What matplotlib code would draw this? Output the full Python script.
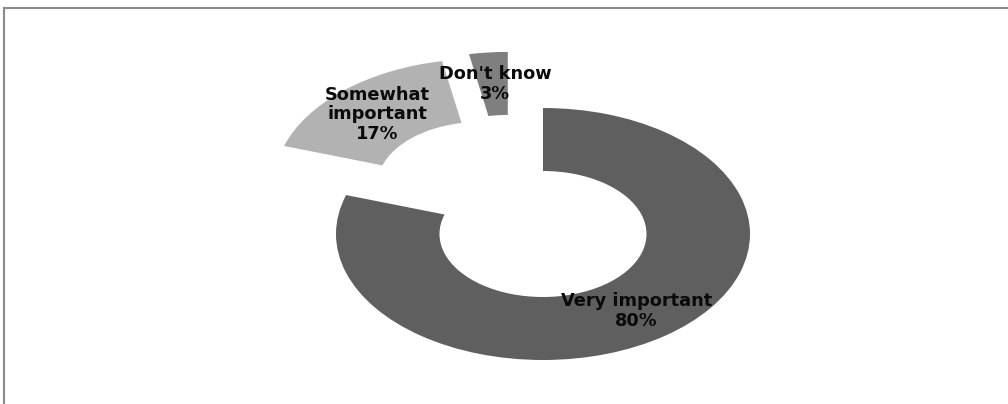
import matplotlib
matplotlib.use("Agg")
import matplotlib.pyplot as plt
from matplotlib.patches import Rectangle

# Survey answers
categories = ["Very important", "Somewhat important", "Don't know"]
shares = [80, 17, 3]
label_text = ["Very important\n80%", "Somewhat\nimportant\n17%", "Don't know\n3%"]

colors = ["#5f5f5f", "#b2b2b2", "#7f7f7f"]
# pulled-out offsets of each ring segment (x, y in radius units)
offsets = [(0.0, 0.0), (-0.30, 0.39), (-0.17, 0.445)]
# label anchor points (radius units)
label_pos = [(0.45, -0.61), (-0.80, 0.95), (-0.23, 1.19)]

W, H = 1008, 404
fig = plt.figure(figsize=(W / 100, H / 100), dpi=100)
ax = fig.add_axes([0, 0, 1, 1])

wedges, _ = ax.pie(shares, colors=colors, startangle=90, counterclock=False,
                   radius=1.0, wedgeprops=dict(width=0.5, linewidth=0))
for w, (dx, dy) in zip(wedges, offsets):
    cx, cy = w.center
    w.set_center((cx + dx, cy + dy))

for txt, (x, y) in zip(label_text, label_pos):
    ax.text(x, y, txt, ha="center", va="center", fontsize=12.8,
            fontweight="bold", color="#0a0a0a", linespacing=1.12)

# stretch the ring horizontally: 207 px per unit across, 126 px per unit up
cx_px, cy_px, sx, sy = 543, 234, 207, 126
ax.set_aspect("auto")
ax.set_xlim(-cx_px / sx, (W - cx_px) / sx)
ax.set_ylim(-(H - cy_px) / sy, cy_px / sy)
ax.axis("off")

# frame around the chart area
fig.patches.append(Rectangle((4 / W, -0.1), 1.2, (H - 8) / H + 0.1,
                             transform=fig.transFigure, fill=False,
                             edgecolor="#8a8a8a", linewidth=1.5))

fig.savefig("out.png", dpi=100)
